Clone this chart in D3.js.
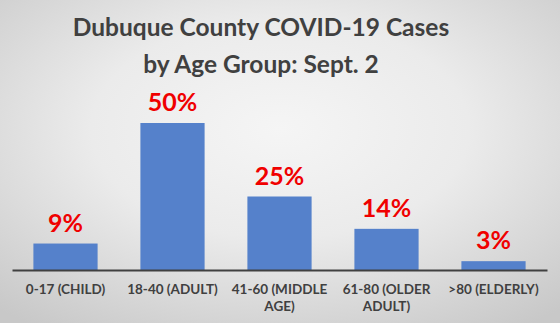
<html>
<head>
    <meta charset="utf-8">
</head>
<body style="margin:0">
    <script src="https://cdn.jsdelivr.net/npm/d3@7"></script>
    <script>
        var width = 560, height = 323;
        var categories = ["0-17 (CHILD)", "18-40 (ADULT)", "41-60 (MIDDLE AGE)", "61-80 (OLDER ADULT)", ">80 (ELDERLY)"];
        var values = [9, 50, 25, 14, 3];
        var labelLines = [["0-17 (CHILD)"], ["18-40 (ADULT)"], ["41-60 (MIDDLE", "AGE)"], ["61-80 (OLDER", "ADULT)"], [">80 (ELDERLY)"]];
        var titleLines = ["Dubuque County COVID-19 Cases", "by Age Group: Sept. 2"];

        var svg = d3.select("body").append("svg")
            .attr("width", width)
            .attr("height", height);

        // background gradient
        var grad = svg.append("defs").append("radialGradient")
            .attr("id", "bg")
            .attr("cx", "50%").attr("cy", "40%").attr("r", "75%");
        grad.append("stop").attr("offset", "0%").attr("stop-color", "#f5f5f5");
        grad.append("stop").attr("offset", "45%").attr("stop-color", "#ebebeb");
        grad.append("stop").attr("offset", "100%").attr("stop-color", "#c8c8c8");
        svg.append("rect").attr("width", width).attr("height", height).attr("fill", "url(#bg)");

        var x = d3.scaleBand()
            .domain(categories)
            .range([12, 547])
            .paddingInner(0.4)
            .paddingOuter(0.2);
        var y = d3.scaleLinear()
            .domain([0, 60])
            .range([270, 93.6]);

        // title
        svg.append("g").selectAll("text")
            .data(titleLines)
            .enter().append("text")
            .attr("x", 261)
            .attr("y", (d, i) => 36 + i * 37)
            .attr("text-anchor", "middle")
            .attr("font-family", "Lato")
            .attr("font-weight", "bold")
            .attr("font-size", 24.5)
            .attr("fill", "#404040")
            .text(d => d);

        // bars
        svg.append("g").selectAll("rect")
            .data(values)
            .enter().append("rect")
            .attr("x", (d, i) => x(categories[i]))
            .attr("y", d => y(d))
            .attr("width", x.bandwidth())
            .attr("height", d => y(0) - y(d))
            .attr("fill", "#5581cb");

        // value labels
        svg.append("g").selectAll("text")
            .data(values)
            .enter().append("text")
            .attr("x", (d, i) => x(categories[i]) + x.bandwidth() / 2)
            .attr("y", d => y(d) - 12)
            .attr("text-anchor", "middle")
            .attr("font-family", "Lato")
            .attr("font-weight", "bold")
            .attr("font-size", 25)
            .attr("fill", "#f00000")
            .text(d => d + "%");

        // axis
        var xAxis = svg.append("g")
            .attr("transform", "translate(0," + y(0) + ")")
            .call(d3.axisBottom(x).tickSize(0).tickSizeOuter(0).tickFormat(""));
        xAxis.select(".domain").attr("stroke", "#404040").attr("stroke-width", 2);

        // category labels
        var cat = svg.append("g").selectAll("text")
            .data(categories)
            .enter().append("text")
            .attr("x", d => x(d) + x.bandwidth() / 2)
            .attr("y", 294)
            .attr("text-anchor", "middle")
            .attr("font-family", "Lato")
            .attr("font-weight", "bold")
            .attr("font-size", 13.5)
            .attr("fill", "#404040");
        cat.selectAll("tspan")
            .data((d, i) => labelLines[i])
            .enter().append("tspan")
            .attr("x", function () { return d3.select(this.parentNode).attr("x"); })
            .attr("dy", (d, i) => i === 0 ? 0 : 17)
            .text(d => d);
    </script>
</body>
</html>
